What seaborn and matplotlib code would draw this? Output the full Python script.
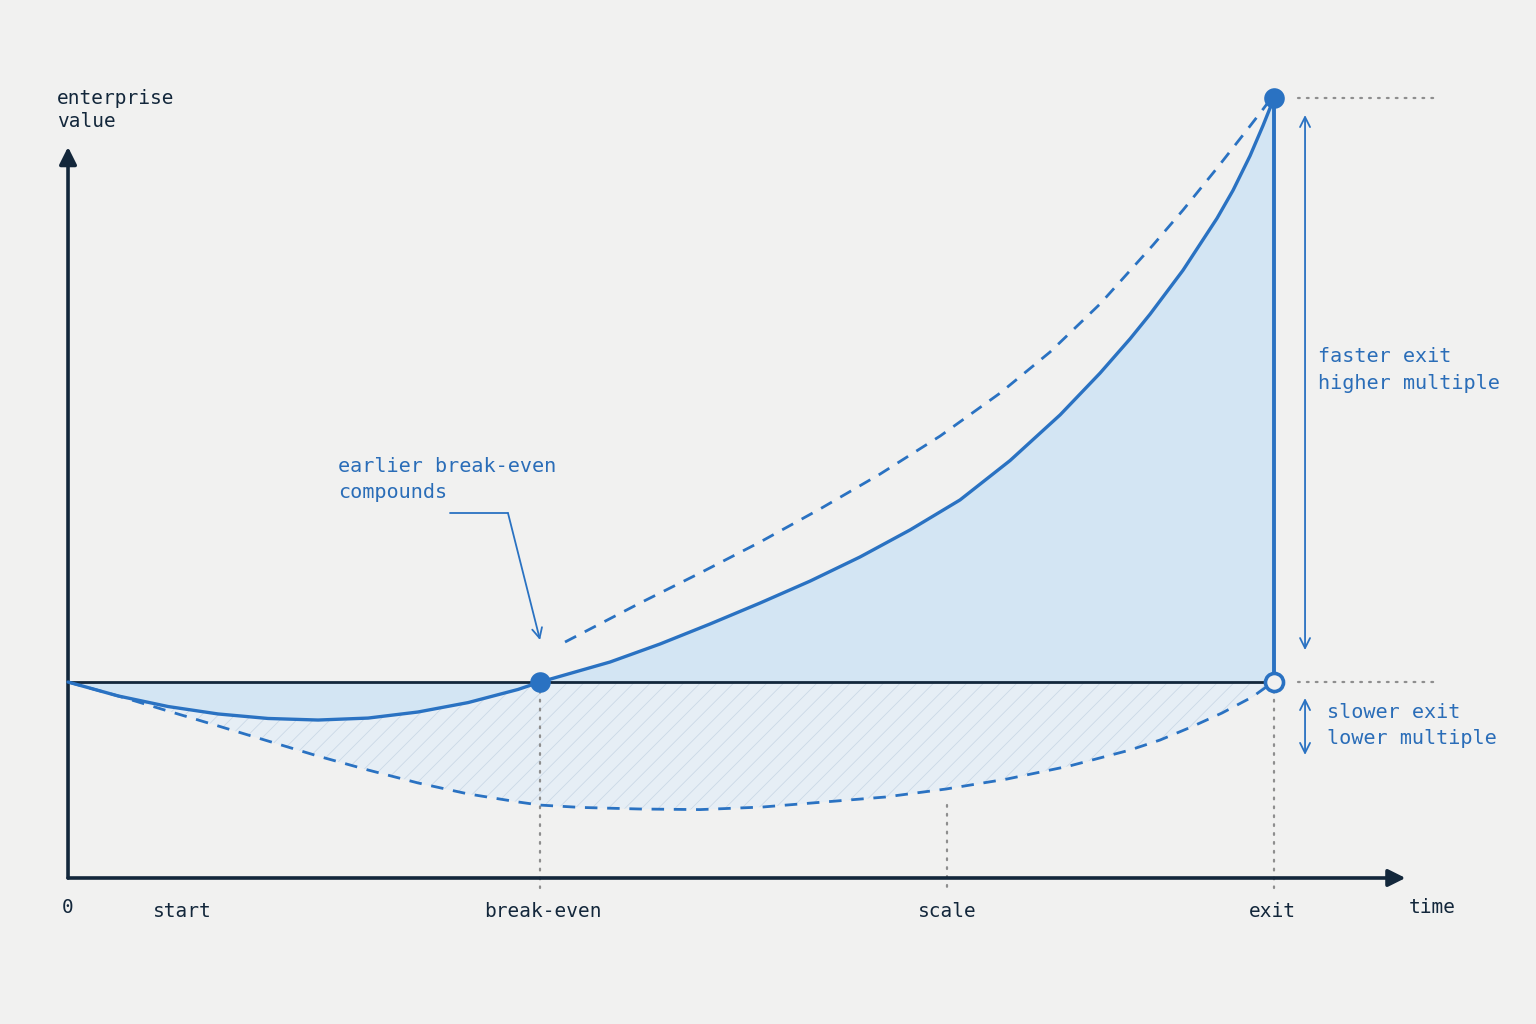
import numpy as np
import pandas as pd
import matplotlib
matplotlib.use("Agg")
import matplotlib.pyplot as plt
import seaborn as sns

# ---------------- data (time in arbitrary units, value as multiple of start) ----------------
solid_x = [0.000, 0.415, 0.829, 1.244, 1.658, 2.073, 2.488, 2.902, 3.317, 3.731, 3.914,
           4.494, 4.909, 5.323, 5.738, 6.153, 6.567, 6.982, 7.396, 7.811, 8.226, 8.557,
           8.806, 8.972, 9.245, 9.527, 9.660, 9.801, 9.909, 10.000]
solid_y = [1.000, 0.929, 0.875, 0.837, 0.814, 0.806, 0.816, 0.847, 0.895, 0.962, 1.000,
           1.102, 1.194, 1.296, 1.403, 1.515, 1.638, 1.776, 1.929, 2.130, 2.363, 2.576,
           2.751, 2.877, 3.101, 3.366, 3.509, 3.685, 3.840, 3.980]

faster_x = [4.121, 4.743, 5.240, 5.738, 6.235, 6.733, 7.231, 7.728, 8.143, 8.557, 8.997,
            9.245, 9.527, 9.801, 9.909, 9.950]
faster_y = [1.204, 1.403, 1.556, 1.714, 1.883, 2.061, 2.255, 2.474, 2.684, 2.929, 3.230,
            3.408, 3.622, 3.837, 3.923, 3.957]

slower_x = [0.000, 0.415, 0.556, 0.829, 1.244, 1.658, 2.073, 2.488, 2.902, 3.317, 3.731,
            3.914, 4.254, 4.743, 5.240, 5.755, 6.774, 7.280, 7.786, 8.300, 8.806, 9.055,
            9.312, 9.569, 9.818, 9.959]
slower_y = [1.000, 0.929, 0.903, 0.852, 0.776, 0.699, 0.622, 0.551, 0.485, 0.429, 0.388,
            0.372, 0.360, 0.352, 0.349, 0.362, 0.413, 0.454, 0.505, 0.571, 0.653, 0.704,
            0.770, 0.842, 0.923, 0.985]

baseline_value = 1.0
breakeven_x = 3.914
exit_x = 10.0
exit_value_fast = 3.98
scale_x = 7.29

milestone_labels = ["start", "break-even", "scale", "exit"]
milestone_x = [0.945, 3.94, 7.29, 9.99]

# ---------------- style ----------------
BG = "#f1f1f0"
BLUE = "#2a72c2"
TXT_BLUE = "#2a6db8"
NAVY = "#13273b"
GRAY = "#8e8e8e"
FILL = "#d3e5f3"

sns.set_theme(style="white")
plt.rcParams["font.family"] = ["DejaVu Sans Mono", "DejaVu Sans"]
plt.rcParams["hatch.linewidth"] = 0.6
plt.rcParams["hatch.color"] = "#cbd9e6"

fig = plt.figure(figsize=(15.36, 10.24), dpi=100, facecolor=BG)
ax = fig.add_axes([0, 0, 1, 1])
ax.set_facecolor(BG)
ax.set_xlim(-0.564, 12.172)
ax.set_ylim(-0.745, 4.480)
ax.axis("off")

# fills
ax.fill_between(slower_x, slower_y, baseline_value, facecolor="#e6eef5", edgecolor="#cbd9e6",
                hatch="//", linewidth=0, zorder=1)
ax.fill_between(solid_x, solid_y, baseline_value, facecolor=FILL, linewidth=0, zorder=2)

# dotted guides
dot = dict(color=GRAY, lw=1.6, linestyle=(0, (0.8, 3.2)), dash_capstyle="round", zorder=1.5)
ax.plot([breakeven_x, breakeven_x], [baseline_value, -0.05], **dot)
ax.plot([exit_x, exit_x], [baseline_value, -0.05], **dot)
ax.plot([scale_x, scale_x], [0.37, -0.05], **dot)
ax.plot([10.2, 11.38], [exit_value_fast, exit_value_fast], **dot)
ax.plot([10.2, 11.38], [baseline_value, baseline_value], **dot)

# axes arrows
ax.annotate("", xy=(11.09, 0), xytext=(0, 0),
            arrowprops=dict(arrowstyle="-|>", color=NAVY, lw=2.6, mutation_scale=26,
                            shrinkA=0, shrinkB=0), zorder=5)
ax.annotate("", xy=(0, 3.73), xytext=(0, 0),
            arrowprops=dict(arrowstyle="-|>", color=NAVY, lw=2.6, mutation_scale=26,
                            shrinkA=0, shrinkB=0), zorder=5)
# baseline
ax.plot([0, exit_x], [baseline_value, baseline_value], color=NAVY, lw=2.0, zorder=4)

# curves
sns.lineplot(x=faster_x, y=faster_y, ax=ax, color=BLUE, lw=2.0, linestyle=(0, (4.5, 3.5)), zorder=3)
sns.lineplot(x=slower_x, y=slower_y, ax=ax, color=BLUE, lw=2.0, linestyle=(0, (4.5, 3.5)), zorder=3)
sns.lineplot(x=solid_x, y=solid_y, ax=ax, color=BLUE, lw=2.4, zorder=5)
ax.plot([exit_x, exit_x], [baseline_value, exit_value_fast], color=BLUE, lw=2.8, zorder=5)

# points
sns.scatterplot(x=[breakeven_x, exit_x], y=[baseline_value, exit_value_fast], ax=ax, s=220,
                color=BLUE, edgecolor=BLUE, linewidth=0, zorder=7)
ax.plot([exit_x], [baseline_value], marker="o", ms=13, mfc=BG, mec=BLUE, mew=2.6, zorder=7)

# double arrows
ax.annotate("", xy=(10.257, 3.893), xytext=(10.257, 1.163),
            arrowprops=dict(arrowstyle="<->", color=BLUE, lw=1.3, mutation_scale=18,
                            shrinkA=0, shrinkB=0))
ax.annotate("", xy=(10.257, 0.918), xytext=(10.257, 0.628),
            arrowprops=dict(arrowstyle="<->", color=BLUE, lw=1.3, mutation_scale=18,
                            shrinkA=0, shrinkB=0))

# annotation connector
ax.plot([3.167, 3.648], [1.862, 1.862], color=BLUE, lw=1.3)
ax.annotate("", xy=(3.914, 1.214), xytext=(3.648, 1.862),
            arrowprops=dict(arrowstyle="->", color=BLUE, lw=1.3, mutation_scale=18,
                            shrinkA=0, shrinkB=0))

# texts
ax.text(2.24, 2.150, "earlier break-even\ncompounds", color=TXT_BLUE, fontsize=14.5,
        ha="left", va="top", linespacing=1.52)
ax.text(10.365, 2.710, "faster exit\nhigher multiple", color=TXT_BLUE, fontsize=14.5,
        ha="left", va="top", linespacing=1.52)
ax.text(10.44, 0.893, "slower exit\nlower multiple", color=TXT_BLUE, fontsize=14.5,
        ha="left", va="top", linespacing=1.47)
ax.text(-0.091, 4.025, "enterprise\nvalue", color=NAVY, fontsize=14,
        ha="left", va="top", linespacing=1.27)

ax.text(0, -0.153, "0", color=NAVY, fontsize=14, ha="center", va="center")
ax.text(11.31, -0.153, "time", color=NAVY, fontsize=14, ha="center", va="center")
for lab, xv in zip(milestone_labels, milestone_x):
    ax.text(xv, -0.172, lab, color=NAVY, fontsize=14, ha="center", va="center")

fig.savefig("out.png", dpi=100, facecolor=BG)
